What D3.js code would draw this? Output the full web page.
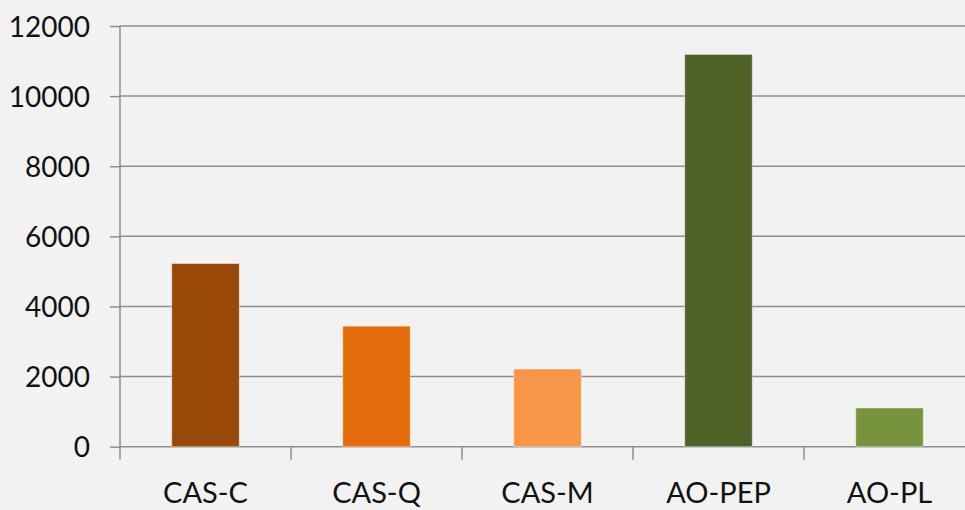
<!DOCTYPE html>
<html>
<head>
<meta charset="utf-8">
<script src="https://cdn.jsdelivr.net/npm/d3@7"></script>
<style>
  html, body { margin: 0; padding: 0; background: #F2F2F2; }
  svg { display: block; }
</style>
</head>
<body>
<svg id="chart" width="965" height="510"></svg>
<script>
// Chart data
const categories = ["CAS-C", "CAS-Q", "CAS-M", "AO-PEP", "AO-PL"];
const values = [5225, 3440, 2215, 11190, 1105];
const barColors = ["#984807", "#E46C0A", "#F79646", "#4F6228", "#77933C"];
const yTicks = [0, 2000, 4000, 6000, 8000, 10000, 12000];

const width = 965, height = 510;
const margin = { left: 120, top: 26, bottom: 63 };
const plotRight = 975;   // last category band runs past the right edge
const baseY = height - margin.bottom - 0.3;

const svg = d3.select("#chart");
svg.append("rect").attr("width", width).attr("height", height).attr("fill", "#F2F2F2");

const x = d3.scaleBand().domain(categories).range([margin.left, plotRight]).padding(0);
const y = d3.scaleLinear().domain([0, 12000]).range([baseY, margin.top]);

const font = "Lato, 'Open Sans', sans-serif";
const gridColor = "#8E8E8E";

// Horizontal gridlines with short outward ticks on the value axis
const yAxis = svg.append("g")
  .attr("transform", `translate(${margin.left},0)`)
  .call(d3.axisLeft(y).tickValues(yTicks).tickSize(10).tickPadding(20).tickFormat(d3.format("d")));
yAxis.select(".domain").remove();
yAxis.selectAll(".tick line").attr("stroke", gridColor).attr("stroke-width", 1.5);
yAxis.selectAll(".tick text")
  .attr("fill", "#111").attr("font-family", font).attr("font-size", 28)
  .attr("dy", "0.36em");

svg.append("g").selectAll("line.grid").data(yTicks).join("line")
  .attr("class", "grid")
  .attr("x1", margin.left).attr("x2", width)
  .attr("y1", d => y(d)).attr("y2", d => y(d))
  .attr("stroke", gridColor).attr("stroke-width", 1.5);

// Vertical value-axis line
svg.append("line")
  .attr("x1", margin.left).attr("x2", margin.left)
  .attr("y1", y(12000)).attr("y2", baseY + 13)
  .attr("stroke", gridColor).attr("stroke-width", 1.5);

// Bars
const barW = x.bandwidth() * 0.395;
svg.append("g").selectAll("rect.bar").data(categories).join("rect")
  .attr("class", "bar")
  .attr("x", d => x(d) + (x.bandwidth() - barW) / 2)
  .attr("width", barW)
  .attr("y", (d, i) => y(values[i]))
  .attr("height", (d, i) => y(0) - y(values[i]))
  .attr("fill", (d, i) => barColors[i])
  .attr("stroke", "rgba(255,255,255,0.45)")
  .attr("stroke-width", 1);

// Category axis: tick marks at band boundaries, labels centred under bars
svg.append("g").selectAll("line.xtick").data(categories.slice(1)).join("line")
  .attr("class", "xtick")
  .attr("x1", d => x(d)).attr("x2", d => x(d))
  .attr("y1", baseY).attr("y2", baseY + 13)
  .attr("stroke", gridColor).attr("stroke-width", 1.5);

svg.append("g").selectAll("text.xlabel").data(categories).join("text")
  .attr("class", "xlabel")
  .attr("x", d => x(d) + x.bandwidth() / 2)
  .attr("y", 503)
  .attr("text-anchor", "middle")
  .attr("fill", "#111")
  .attr("font-family", font)
  .attr("font-size", 29)
  .text(d => d);
</script>
</body>
</html>
